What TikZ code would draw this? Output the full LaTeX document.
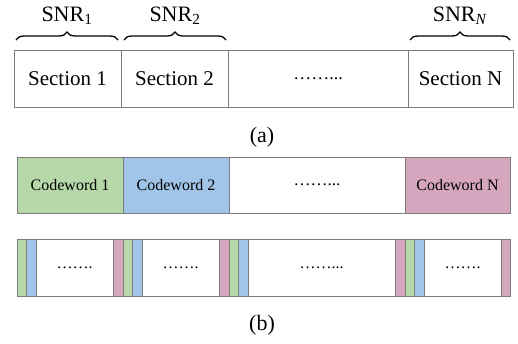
\documentclass[tikz,border=0pt]{standalone}
\usepackage{fontspec}
\setmainfont{Liberation Serif}
\usetikzlibrary{decorations.pathreplacing}
\definecolor{cwgreen}{RGB}{182,215,168}
\definecolor{cwblue}{RGB}{160,197,232}
\definecolor{cwpink}{RGB}{213,166,190}
\definecolor{edgegray}{RGB}{125,125,125}
\newcommand\mkcell[8]{\node[cell, fill=#6, minimum width={#3-#2}, minimum height={#5-#4}, font=#8] (#1) at (#2,#4) {#7};}
\begin{document}
\begin{tikzpicture}[x=1pt,y=-1pt,
  cell/.style={draw=edgegray, line width=0.9pt, inner sep=0pt, outer sep=0pt, anchor=north west},
  bigtxt/.style={font=\fontsize{22}{24}\selectfont},
  bracestyle/.style={decorate, decoration={brace, amplitude=8pt}, line width=1.3pt}]
\useasboundingbox (0,0) rectangle (518,343);
% row (a)
\mkcell{s1}{14}{121}{50}{107}{white}{Section 1}{\fontsize{21}{24}\selectfont}
\mkcell{s2}{121}{228}{50}{107}{white}{Section 2}{\fontsize{21}{24}\selectfont}
\mkcell{sd}{228}{408}{50}{107}{white}{……...}{\fontsize{18}{20}\selectfont}
\mkcell{sn}{408}{513}{50}{107}{white}{Section N}{\fontsize{21}{24}\selectfont}
\coordinate (b1l) at (16,40); \coordinate (b1r) at (118,40);
\coordinate (b2l) at (124,40); \coordinate (b2r) at (226,40);
\coordinate (b3l) at (410,40); \coordinate (b3r) at (510,40);
\draw[bracestyle] (b1l) -- (b1r);
\draw[bracestyle] (b2l) -- (b2r);
\draw[bracestyle] (b3l) -- (b3r);
\node[bigtxt] (snr1) at (67,16) {SNR\textsubscript{1}};
\node[bigtxt] (snr2) at (175,16) {SNR\textsubscript{2}};
\node[bigtxt] (snrn) at (460,16) {SNR\textsubscript{\textit{N}}};
\node[bigtxt] (la) at (262,137) {(a)};
% row codewords
\mkcell{c1}{17}{123}{157}{213}{cwgreen}{Codeword 1}{\fontsize{16}{18}\selectfont}
\mkcell{c2}{123}{229}{157}{213}{cwblue}{Codeword 2}{\fontsize{16}{18}\selectfont}
\mkcell{cd}{229}{405}{157}{213}{white}{……...}{\fontsize{17}{18}\selectfont}
\mkcell{cn}{405}{510}{157}{213}{cwpink}{Codeword N}{\fontsize{16}{18}\selectfont}
% row interleaved
\mkcell{g1}{17}{26}{239}{296}{cwgreen}{}{}
\mkcell{u1}{26}{36}{239}{296}{cwblue}{}{}
\mkcell{w1}{36}{113}{239}{296}{white}{…….}{\fontsize{16}{18}\selectfont}
\mkcell{p1}{113}{123}{239}{296}{cwpink}{}{}
\mkcell{g2}{123}{132}{239}{296}{cwgreen}{}{}
\mkcell{u2}{132}{142}{239}{296}{cwblue}{}{}
\mkcell{w2}{142}{219}{239}{296}{white}{…….}{\fontsize{16}{18}\selectfont}
\mkcell{p2}{219}{229}{239}{296}{cwpink}{}{}
\mkcell{g3}{229}{238}{239}{296}{cwgreen}{}{}
\mkcell{u3}{238}{248}{239}{296}{cwblue}{}{}
\mkcell{w3}{248}{395}{239}{296}{white}{……...}{\fontsize{16}{18}\selectfont}
\mkcell{p3}{395}{405}{239}{296}{cwpink}{}{}
\mkcell{g4}{405}{414}{239}{296}{cwgreen}{}{}
\mkcell{u4}{414}{424}{239}{296}{cwblue}{}{}
\mkcell{w4}{424}{501}{239}{296}{white}{…….}{\fontsize{16}{18}\selectfont}
\mkcell{p4}{501}{510}{239}{296}{cwpink}{}{}
\node[bigtxt] (lb) at (262,325) {(b)};
\end{tikzpicture}
\end{document}
